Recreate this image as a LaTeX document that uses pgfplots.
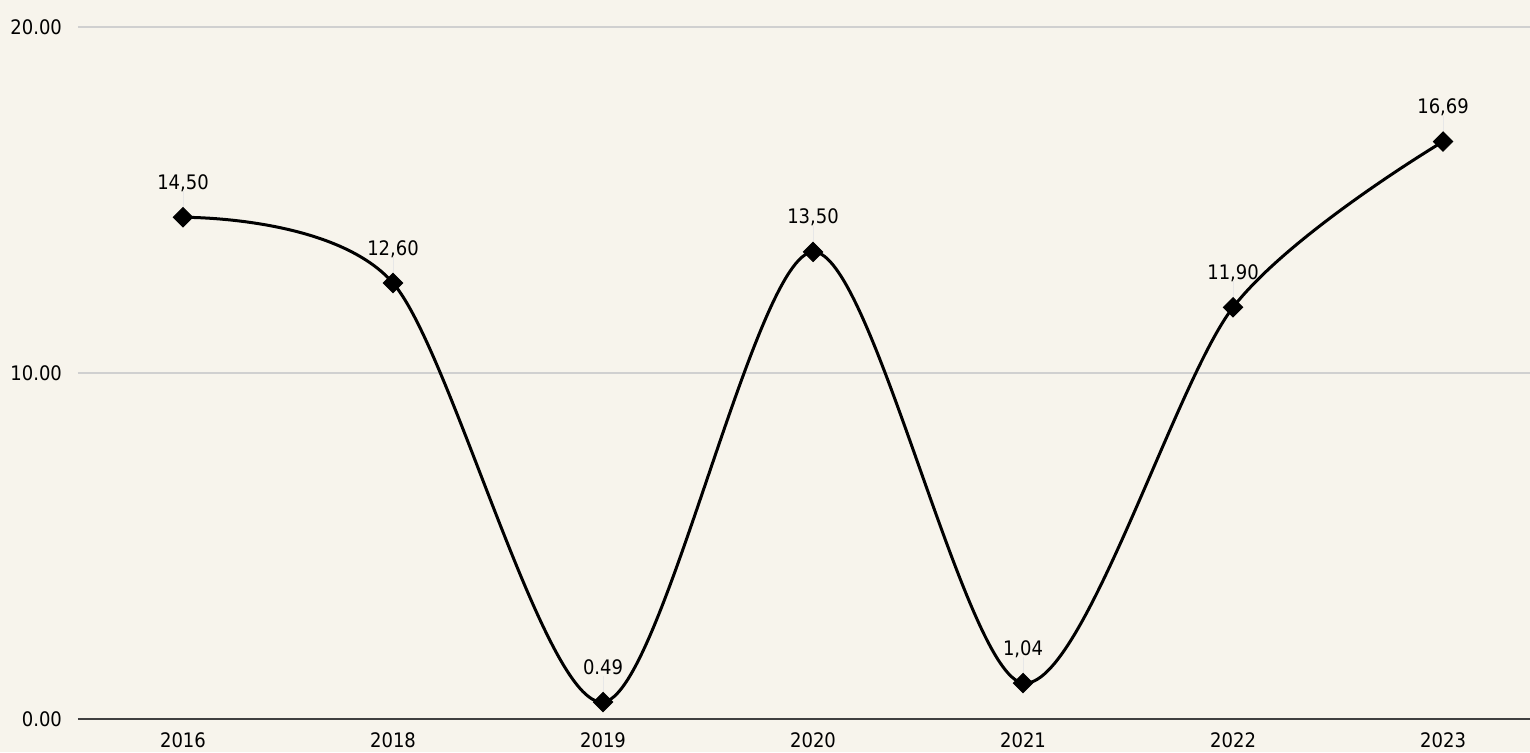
\documentclass[border=0pt]{standalone}
\usepackage{fontspec}
\setmainfont{DejaVu Sans Condensed}
\usepackage{pgfplots}
\usepackage{pgfplotstable}
\pgfplotsset{compat=1.18}
\definecolor{bg}{HTML}{F7F4EC}
\definecolor{gridc}{HTML}{D0D0D0}
\definecolor{axc}{HTML}{404040}
\pgfplotstableread{
x y label
0 14.50 14,50
1 12.60 12,60
2 0.49 0.49
3 13.50 13,50
4 1.04 1,04
5 11.90 11,90
6 16.69 16,69
}\datatab
\begin{document}
\fontsize{10}{12}\selectfont
\begin{tikzpicture}
\useasboundingbox (-39pt,-16.5pt) rectangle (726pt,359.5pt);
\fill[bg] (-39pt,-16.5pt) rectangle (726pt,359.5pt);
\begin{axis}[
  at={(0,0)}, anchor=south west,
  width=726pt, height=346pt, scale only axis,
  xmin=-0.5, xmax=6.414, ymin=0, ymax=20,
  separate axis lines,
  axis x line*=bottom, axis y line*=left,
  y axis line style={draw=none},
  x axis line style={draw=axc, line width=0.75pt},
  xtick={0,...,6},
  xticklabels={2016,2018,2019,2020,2021,2022,2023},
  ytick={0,10,20},
  yticklabels={0.00,10.00,20.00},
  tick style={draw=none},
  ymajorgrids,
  major grid style={draw=gridc, line width=0.65pt},
  xticklabel style={yshift=-3.5pt, font=\fontsize{10}{12}\selectfont},
  yticklabel style={xshift=-4.5pt, font=\fontsize{10}{12}\selectfont},
  clip=false,
]
\addplot[draw=none, no marks, forget plot,
  error bars/.cd, y dir=plus, y fixed=0.75, error mark=none,
  error bar style={draw=gridc!50, line width=0.5pt}]
  table[x=x, y=y] {\datatab};
\addplot[black, line width=1.5pt, smooth, tension=0.5,
  mark=square*, mark size=3.4pt,
  mark options={rotate=45, solid, fill=black, line width=0.5pt},
  nodes near coords, point meta=explicit symbolic,
  every node near coord/.append style={anchor=base, yshift=14pt, black, font=\fontsize{10}{12}\selectfont}]
  table[x=x, y=y, meta=label] {\datatab};
\end{axis}
\end{tikzpicture}
\end{document}
